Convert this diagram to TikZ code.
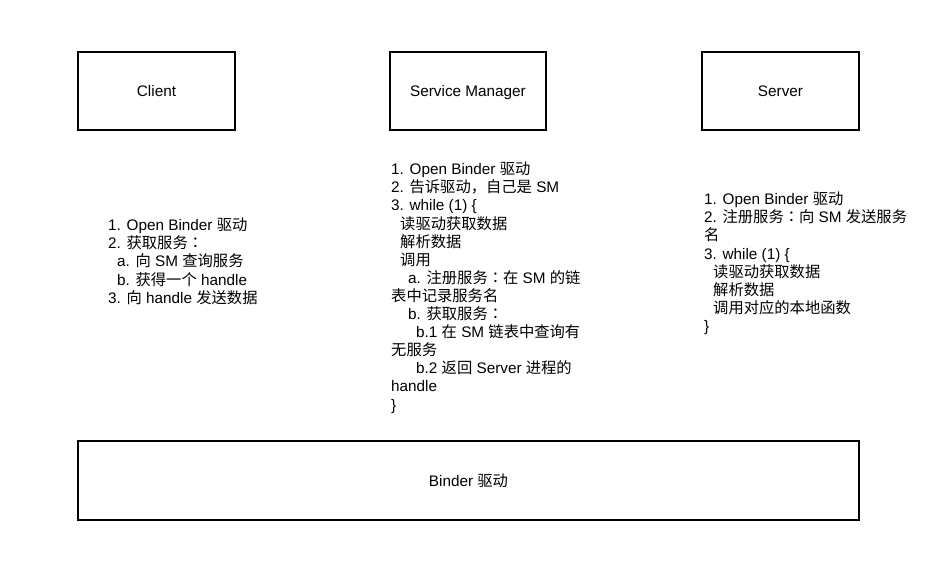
\documentclass[tikz,border=0pt]{standalone}
\usepackage{fontspec}
\setmainfont{Liberation Sans}
\newfontfamily\cjk{Noto Sans CJK SC}
\newfontfamily\cjkjp{Noto Sans CJK JP}
\newcommand{\zh}[1]{{\cjk #1}}
\newcommand{\zhcolon}{{\cjkjp ：}}
\newcommand{\ind}[1]{\hspace*{#1pt}}
\newcommand{\fl}{\rule{0pt}{14pt}}
\begin{document}
\begin{tikzpicture}[x=1pt,y=-1pt,
  box/.style={draw=black,line width=2pt,inner sep=0pt},
  lbl/.style={font=\fontsize{15.3}{18}\selectfont,inner sep=0pt,anchor=base},
  txt/.style={font=\fontsize{15.3}{18.1}\selectfont,align=left,inner sep=0pt,anchor=north west}]
\useasboundingbox (0,0) rectangle (949,571);
\draw[box] (78,52) rectangle (235,130);
\draw[box] (390,52) rectangle (546,130);
\draw[box] (702,52) rectangle (859,130);
\draw[box] (78,441) rectangle (859,520);
\node[lbl] (client) at (156.5,96.5) {Client};
\node[lbl] (sm) at (468,96.5) {Service Manager};
\node[lbl] (server) at (780.5,96.5) {Server};
\node[lbl] (binder) at (468.5,486) {Binder \zh{驱动}};
\node[txt] (ctext) at (108,216.5) {\fl 1. Open Binder \zh{驱动}\\
2. \zh{获取服务}\zhcolon\\
\ind{9}a. \zh{向} SM \zh{查询服务}\\
\ind{9}b. \zh{获得一个} handle\\
3. \zh{向} handle \zh{发送数据}};
\node[txt] (smtext) at (391,160.5) {\fl 1. Open Binder \zh{驱动}\\
2. \zh{告诉驱动，自己是} SM\\
3. while (1) \{\\
\ind{9}\zh{读驱动获取数据}\\
\ind{9}\zh{解析数据}\\
\ind{9}\zh{调用}\\
\ind{17}a. \zh{注册服务}\zhcolon\zh{在} SM \zh{的链}\\
\zh{表中记录服务名}\\
\ind{17}b. \zh{获取服务}\zhcolon\\
\ind{25}b.1 \zh{在} SM \zh{链表中查询有}\\
\zh{无服务}\\
\ind{25}b.2 \zh{返回} Server \zh{进程的}\\
handle\\
\}};
\node[txt] (srvtext) at (704,190.5) {\fl 1. Open Binder \zh{驱动}\\
2. \zh{注册服务}\zhcolon\zh{向} SM \zh{发送服务}\\
\zh{名}\\
3. while (1) \{\\
\ind{9}\zh{读驱动获取数据}\\
\ind{9}\zh{解析数据}\\
\ind{9}\zh{调用对应的本地函数}\\
\}};
\end{tikzpicture}
\end{document}
